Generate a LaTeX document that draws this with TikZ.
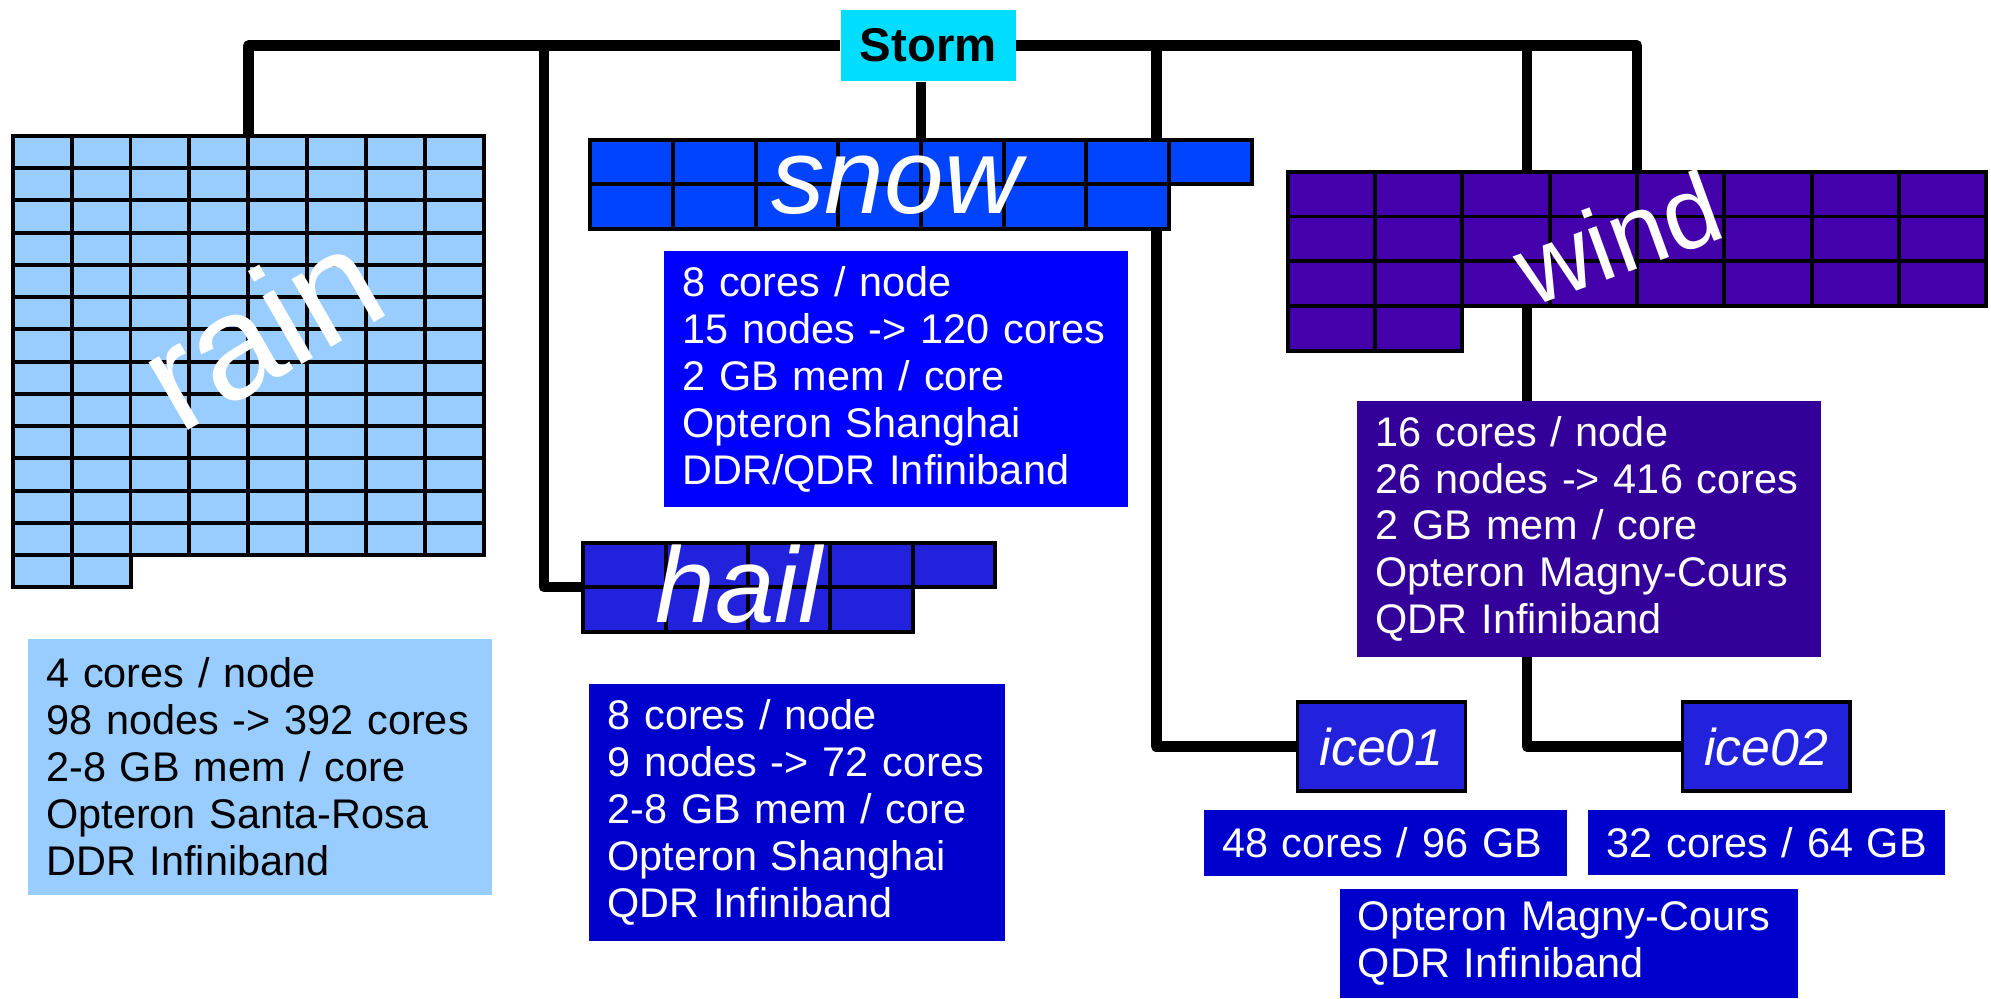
\documentclass[tikz,border=0pt]{standalone}
\usepackage{fontspec}
\setmainfont{Liberation Sans}
\usepackage{tikz}
\usetikzlibrary{
    positioning,
    backgrounds
}
\definecolor{stormCyan}{RGB}{0, 221, 255}
\definecolor{rainBlue}{RGB}{153, 204, 255}
\definecolor{snowBlue}{RGB}{0, 68, 255}
\definecolor{snowInfo}{RGB}{0, 0, 255}
\definecolor{hailBlue}{RGB}{34, 34, 221}
\definecolor{hailInfo}{RGB}{0, 0, 204}
\definecolor{windPurple}{RGB}{68, 0, 170}
\definecolor{windInfo}{RGB}{51, 0, 153}

\begin{document}
\begin{tikzpicture}[x=0.025cm, y=-0.025cm,
    cell/.style={draw=black, line width=2.2pt, outer sep=0pt, inner sep=0pt},
    bus/.style={line width=5.9pt, line join=round},
    info/.style={anchor=north west, inner xsep=0.36cm, inner ysep=0pt, outer sep=0pt,
        align=left, text=white, font={\fontsize{23.2}{26.3}\selectfont}},
    bigname/.style={text=white, inner sep=0pt, font={\fontsize{60}{60}\selectfont\itshape}},
    icebox/.style={draw=black, line width=2pt, fill=hailBlue, text=white, inner sep=0pt,
        minimum width=3.3cm, minimum height=1.75cm, font={\fontsize{29}{29}\selectfont\itshape}}
]
            \useasboundingbox (0,0) rectangle (1568,786);

            % head node
            \node[fill=stormCyan, inner sep=0pt, minimum width=3.45cm, minimum height=1.4cm,
                font={\fontsize{26.5}{26.5}\selectfont\bfseries}] (storm) at (731,36) {Storm};

            % rain
            \foreach \r in {1,...,13}
                \foreach \c in {1,...,8}
                    \node[cell, fill=rainBlue, minimum width=1.16cm, minimum height=0.635cm]
                        (rain-\r-\c) at ({10+46.4*(\c-0.5)}, {107+25.4*(\r-0.5)}) {};
            \foreach \c in {1,2}
                \node[cell, fill=rainBlue, minimum width=1.16cm, minimum height=0.635cm]
                    (rain-14-\c) at ({10+46.4*(\c-0.5)}, {107+25.4*13.5}) {};
            \node[bigname, rotate=30, font={\fontsize{83}{83}\selectfont}] (rainName) at (205,258) {rain};

            % snow
            \foreach \c in {1,...,8}
                \node[cell, fill=snowBlue, minimum width=1.6275cm, minimum height=0.875cm]
                    (snow-1-\c) at ({465+65.1*(\c-0.5)}, 127.5) {};
            \foreach \c in {1,...,7}
                \node[cell, fill=snowBlue, minimum width=1.6275cm, minimum height=0.875cm]
                    (snow-2-\c) at ({465+65.1*(\c-0.5)}, 162.5) {};
            \node[bigname] (snowName) at (706,146) {snow};

            % hail
            \foreach \c in {1,...,5}
                \node[cell, fill=hailBlue, minimum width=1.62cm, minimum height=0.8775cm]
                    (hail-1-\c) at ({459.5+64.8*(\c-0.5)}, 444.85) {};
            \foreach \c in {1,...,4}
                \node[cell, fill=hailBlue, minimum width=1.62cm, minimum height=0.8775cm]
                    (hail-2-\c) at ({459.5+64.8*(\c-0.5)}, 479.95) {};
            \node[bigname] (hailName) at (582,460) {hail};

            % wind
            \foreach \r in {1,2,3}
                \foreach \c in {1,...,8}
                    \node[cell, fill=windPurple, minimum width=1.72cm, minimum height=0.8825cm]
                        (wind-\r-\c) at ({1014+68.8*(\c-0.5)}, {135.2+35.3*(\r-0.5)}) {};
            \foreach \c in {1,2}
                \node[cell, fill=windPurple, minimum width=1.72cm, minimum height=0.8825cm]
                    (wind-4-\c) at ({1014+68.8*(\c-0.5)}, {135.2+35.3*3.5}) {};
            \node[bigname, rotate=20, font={\fontsize{57}{57}\selectfont}] (windName) at (1274,187) {wind};

            % ice
            \node[icebox] (ice01) at (1088,588) {ice01};
            \node[icebox] (ice02) at (1391,588) {ice02};

            % specs
            \node[info, text=black, fill=rainBlue, text width=8.405cm, minimum height=5.05cm] (rainInfo) at (22,503)
                {4 cores / node\\98 nodes -> 392 cores\\2-8 GB mem / core\\Opteron Santa-Rosa\\DDR Infiniband};
            \node[info, fill=snowInfo, text width=8.405cm, minimum height=5.025cm] (snowInfo) at (523,198)
                {8 cores / node\\15 nodes -> 120 cores\\2 GB mem / core\\Opteron Shanghai\\DDR/QDR Infiniband};
            \node[info, fill=hailInfo, text width=7.455cm, minimum height=5.05cm] (hailInfo) at (464,539)
                {8 cores / node\\9 nodes -> 72 cores\\2-8 GB mem / core\\Opteron Shanghai\\QDR Infiniband};
            \node[info, fill=windInfo, text width=8.405cm, minimum height=5.025cm] (windInfo) at (1069,316)
                {16 cores / node\\26 nodes -> 416 cores\\2 GB mem / core\\Opteron Magny-Cours\\QDR Infiniband};
            \node[info, fill=hailInfo, text width=6.43cm, minimum height=1.3cm] (ice01Info) at (948,638)
                {48 cores / 96 GB};
            \node[info, fill=hailInfo, text width=6.305cm, minimum height=1.275cm] (ice02Info) at (1251,638)
                {32 cores / 64 GB};
            \node[info, fill=hailInfo, text width=8.305cm, minimum height=2.15cm] (iceInfo) at (1055,700)
                {Opteron Magny-Cours\\QDR Infiniband};

            % network
            \begin{scope}[on background layer]
                \draw[bus] (storm.west) -| (rain-1-4.north east);
                \draw[bus] (hail-1-1.south west) -- ++(-31,0) |- (storm.west);
                \draw[bus] (storm.south -| snow-1-4.north east) -- (snow-1-4.north east);
                \draw[bus] (storm.east) -| (wind-1-4.north east);
                \draw[bus] (ice01.west) -- ++(-110,0) |- (storm.east);
                \draw[bus] (ice02.west) -- ++(-121,0) |- (storm.east);
            \end{scope}
        \end{tikzpicture}
\end{document}
